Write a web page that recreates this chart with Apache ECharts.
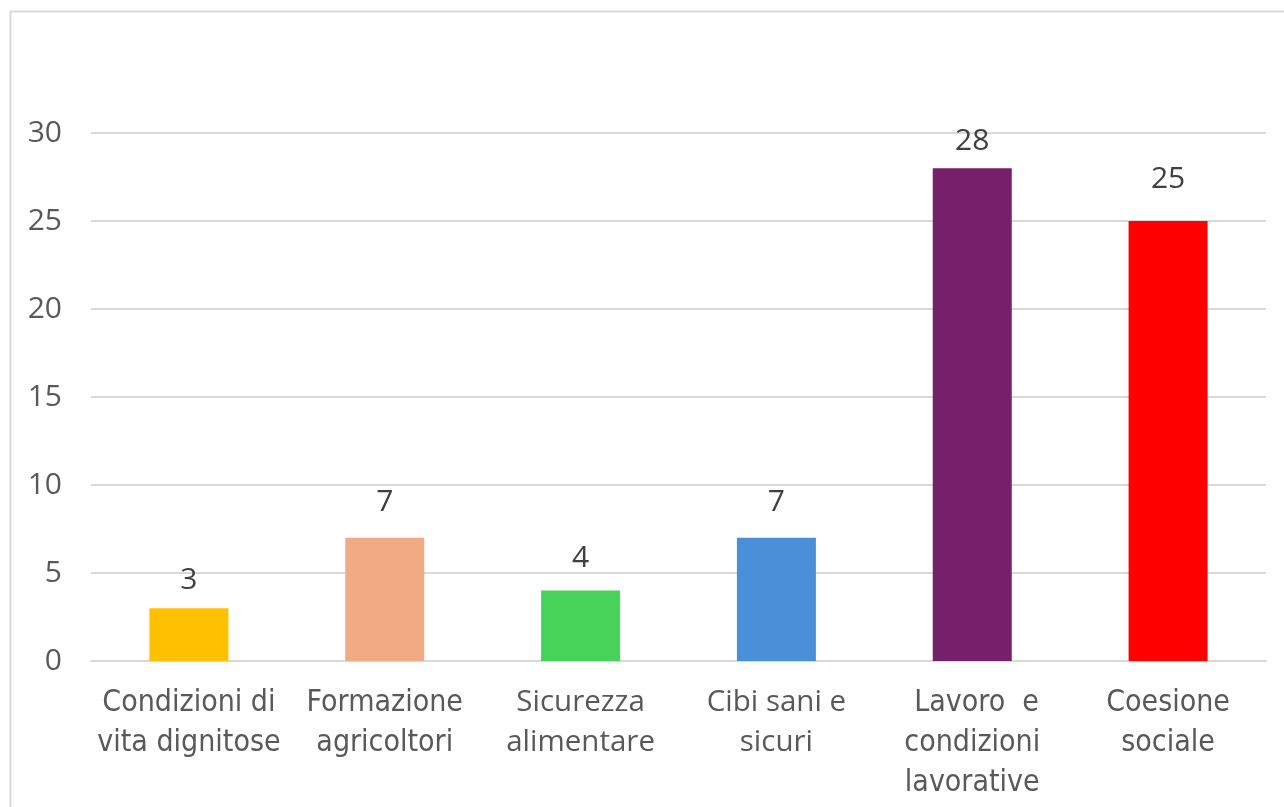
<!DOCTYPE html>
<html>
<head>
<meta charset="utf-8">
<script src="https://cdn.jsdelivr.net/npm/echarts@6/dist/echarts.min.js"></script>
<style>
  html, body { margin: 0; padding: 0; background: #fff; }
  #chart { width: 1284px; height: 807px; }
</style>
</head>
<body>
<div id="chart"></div>
<script>
// Temi e numero di occorrenze
const categories = [
  'Condizioni di\nvita dignitose',
  'Formazione\nagricoltori',
  'Sicurezza\nalimentare',
  'Cibi sani e\nsicuri',
  ' Lavoro  e\ncondizioni\nlavorative',
  'Coesione\nsociale'
];
const values = [3, 7, 4, 7, 28, 25];
const barColors = ['#FFC000', '#F1AA84', '#47D35A', '#4A90D9', '#761F6A', '#FF0000'];
// gap between each bar top and its value label, in px
const labelGaps = [13, 20, 17, 20, 12, 27];
const yTicks = { min: 0, max: 30, interval: 5 };

const condensed = "'DejaVu Sans Condensed', 'DejaVu Sans', sans-serif";
const sans = "'Open Sans', 'Noto Sans', sans-serif";

const chart = echarts.init(document.getElementById('chart'), null, { renderer: 'canvas' });

chart.setOption({
  animation: false,
  backgroundColor: '#ffffff',
  graphic: [{
    type: 'rect',
    shape: { x: 10.5, y: 11.5, width: 1300, height: 820 },
    style: { fill: 'none', stroke: '#D9D9D9', lineWidth: 2 },
    silent: true
  }],
  grid: { left: 91, right: 18, top: 133, bottom: 146, containLabel: false },
  xAxis: {
    type: 'category',
    data: categories,
    axisLine: { show: true, lineStyle: { color: '#D9D9D9', width: 2 } },
    axisTick: { show: false },
    axisLabel: {
      interval: 0,
      margin: 22,
      color: '#595959',
      fontSize: 30,
      lineHeight: 40,
      fontFamily: condensed,
      formatter: function (v, i) {
        return (i === 2 || i === 3) ? '{s|' + v.split('\n').join('}\n{s|') + '}' : v;
      },
      rich: {
        s: { fontFamily: sans, fontSize: 29.5, color: '#595959', lineHeight: 40 }
      }
    }
  },
  yAxis: {
    type: 'value',
    min: yTicks.min,
    max: yTicks.max,
    interval: yTicks.interval,
    axisLine: { show: false },
    axisTick: { show: false },
    splitLine: { lineStyle: { color: '#D9D9D9', width: 2 } },
    axisLabel: {
      margin: 29,
      color: '#595959',
      fontSize: 30,
      fontFamily: sans
    }
  },
  series: [{
    type: 'bar',
    data: values.map((v, i) => ({
      value: v,
      itemStyle: { color: barColors[i] },
      label: { distance: labelGaps[i] }
    })),
    barWidth: 79,
    label: {
      show: true,
      position: 'top',
      color: '#404040',
      fontSize: 30,
      fontFamily: sans
    }
  }]
});
</script>
</body>
</html>
